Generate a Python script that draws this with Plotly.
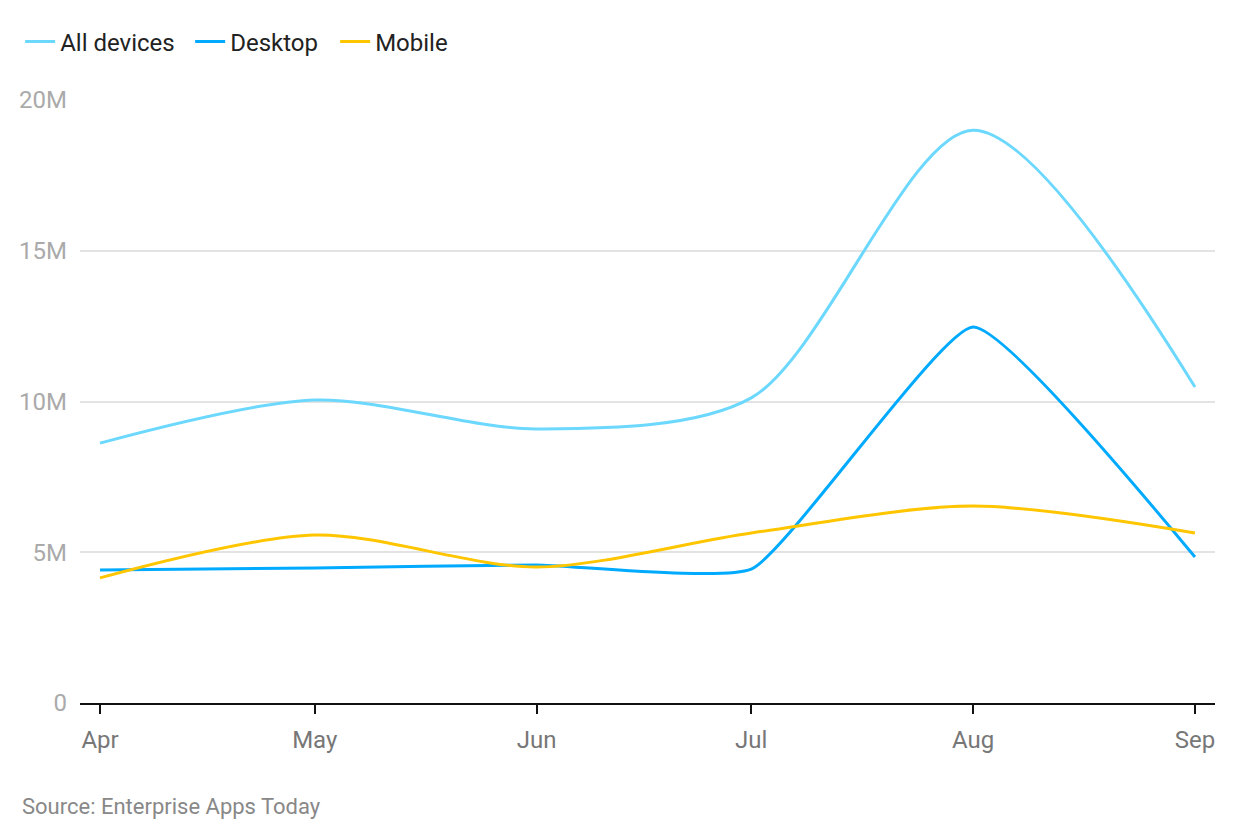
import plotly.graph_objects as go
from datetime import datetime, timedelta

months = ["2021-04-01", "2021-05-01", "2021-06-01", "2021-07-01", "2021-08-01", "2021-09-01"]
tick_labels = ["Apr", "May", "Jun", "Jul", "Aug", "Sep"]
all_devices = [8.62e6, 10.05e6, 9.09e6, 10.12e6, 19.0e6, 10.48e6]
desktop = [4.41e6, 4.48e6, 4.58e6, 4.44e6, 12.47e6, 4.84e6]
mobile = [4.15e6, 5.57e6, 4.51e6, 5.64e6, 6.53e6, 5.64e6]

series = [
    ("All devices", all_devices, "#6cd8fe", 0.85, 125),
    ("Desktop", desktop, "#00aaff", 0.42, 100),
    ("Mobile", mobile, "#ffc600", 0.85, None),
]

fig = go.Figure()
for name, vals, color, sm, lw in series:
    tr = dict(
        x=months, y=vals, name=name, mode="lines",
        line=dict(color=color, width=3, shape="spline", smoothing=sm),
    )
    if lw:
        tr["legendwidth"] = lw
    fig.add_trace(go.Scatter(**tr))

start = datetime(2021, 4, 1) - timedelta(days=2.8)
end = datetime(2021, 9, 1) + timedelta(days=2.8)

# page body has an 8px margin; compensate in the figure margins
fig.update_layout(
    width=1240, height=840,
    paper_bgcolor="white", plot_bgcolor="white",
    font=dict(family="Roboto", size=24, color="#222"),
    margin=dict(l=72, r=33, t=92, b=145, autoexpand=False),
    showlegend=True,
    legend=dict(orientation="h", xref="container", yref="container",
                x=0.0098, y=0.9595, xanchor="left", yanchor="middle",
                font=dict(size=24, color="#222"), itemwidth=30,
                traceorder="normal"),
    xaxis=dict(
        type="date", range=[start, end],
        tickvals=months, ticktext=tick_labels,
        showgrid=False, showline=True, linecolor="#111", linewidth=2,
        ticks="outside", ticklen=9, tickwidth=2, tickcolor="#111",
        tickfont=dict(size=24, color="#777"), zeroline=False,
        ticklabelstandoff=5, automargin=False,
    ),
    yaxis=dict(
        range=[0, 20e6], tickvals=[0, 5e6, 10e6, 15e6, 20e6],
        ticktext=["0", "5M", "10M", "15M", "20M"],
        showgrid=True, gridcolor="#e3e3e3", gridwidth=1.5,
        zeroline=False, showline=False, ticks="",
        tickfont=dict(size=24, color="#aaa"), ticklabelstandoff=12,
        automargin=False,
    ),
    annotations=[dict(
        text="Source: Enterprise Apps Today", xref="paper", yref="paper",
        x=0, y=0, xanchor="left", yanchor="middle", showarrow=False,
        font=dict(size=22, color="#888"),
        xshift=-60, yshift=-103,
    )],
)

fig.write_html("out.html")
